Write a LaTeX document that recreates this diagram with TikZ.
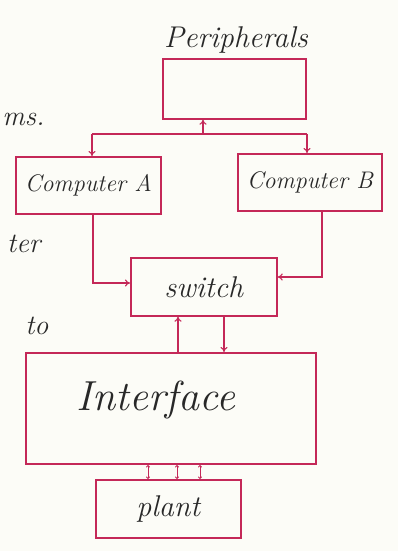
\documentclass[tikz,border=0pt]{standalone}
\usetikzlibrary{arrows.meta}
\definecolor{ink}{RGB}{196,40,88}
\definecolor{pencil}{RGB}{40,40,40}
\definecolor{paper}{RGB}{252,252,247}
\newcommand{\hsz}[1]{\itshape\fontsize{#1}{#1}\selectfont}
\begin{document}
\begin{tikzpicture}[x=1pt,y=-1pt,
  blk/.style={draw=ink,line width=1.7pt,inner sep=0pt,anchor=north west},
  hand/.style={text=pencil},
  conn/.style={draw=ink,line width=1.1pt,-{To[length=5pt,width=7pt]}},
  dconn/.style={draw=ink,line width=0.9pt,{To[length=2.5pt,width=4pt]}-{To[length=2.5pt,width=4pt]}}]
\fill[paper] (0,0) rectangle (398,551);
\useasboundingbox (0,0) rectangle (398,551);
% boxes
\node[blk,minimum width=143pt,minimum height=60pt] (per) at (162,58) {};
\node[blk,minimum width=145pt,minimum height=57pt,hand,font=\hsz{24}] (ca) at (15,156) {Computer A};
\node[blk,minimum width=144pt,minimum height=57pt,hand,font=\hsz{24}] (cb) at (237,153) {Computer B};
\node[blk,minimum width=146pt,minimum height=58pt,hand,font=\hsz{30}] (sw) at (130,257) {switch};
\node[blk,minimum width=290pt,minimum height=111pt] (itf) at (25,352) {};
\node[hand,font=\hsz{42}] (itxt) at (156,400) {Interface};
\node[blk,minimum width=145pt,minimum height=58pt,hand,font=\hsz{30}] (pl) at (95,479) {plant};
% labels
\node[hand,font=\hsz{30}] (pertxt) at (236,40) {Peripherals};
\node[hand,font=\hsz{28},anchor=east] (f1) at (48,119) {ms.};
\node[hand,font=\hsz{28},anchor=east] (f2) at (44,244) {ter};
\node[hand,font=\hsz{28},anchor=east] (f3) at (52,326) {to};
% bus
\coordinate (bl) at (92,134);
\coordinate (br) at (307,134);
\coordinate (bm) at (203,134);
\draw[ink,line width=1.1pt] (bl) -- (br);
\draw[conn] (bm) -- (bm |- per.south);
\draw[conn] (bl) -- (bl |- ca.north);
\draw[conn] (br) -- (br |- cb.north);
% computers to switch
\coordinate (ka) at (93,283);
\coordinate (kb) at (322,277);
\draw[conn] (ca.south -| ka) -- (ka) -- (ka -| sw.west);
\draw[conn] (cb.south -| kb) -- (kb) -- (kb -| sw.east);
% switch <-> interface
\coordinate (u1) at (178,352);
\coordinate (d1) at (224,315);
\draw[conn] (u1) -- (u1 |- sw.south);
\draw[conn] (d1) -- (d1 |- itf.north);
% interface <-> plant
\foreach \xx/\nm in {148/p1,177/p2,200/p3}{
  \coordinate (\nm) at (\xx,465);
  \draw[dconn] (\nm) -- (\nm |- pl.north);
}
\end{tikzpicture}
\end{document}
